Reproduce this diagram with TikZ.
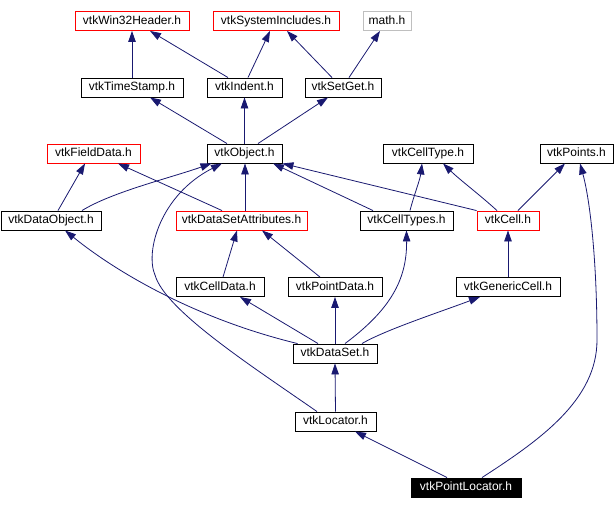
\documentclass[tikz,border=0pt]{standalone}
\usepackage{fontspec}
\setmainfont{Liberation Sans}
\usetikzlibrary{arrows.meta}
\definecolor{edgeblue}{HTML}{191970}
\begin{document}
\begin{tikzpicture}[x=1pt,y=-1pt,
  box/.style={draw=black,line width=0.9pt,rectangle,inner sep=0pt,minimum height=19pt,
    font=\fontsize{12}{14}\selectfont,text height=8.8pt,text depth=2.4pt},
  redbox/.style={box,draw=red},
  greybox/.style={box,draw=black!25},
  darkbox/.style={box,fill=black,text=white},
  inc/.style={draw=edgeblue,line width=0.8pt,-{Triangle[length=11pt,width=7.5pt]}}]
\useasboundingbox (0,0) rectangle (614,509);
% row 1
\node[redbox,minimum width=114pt] (win32) at (132,21) {vtkWin32Header.h};
\node[redbox,minimum width=126pt] (sysinc) at (276,21) {vtkSystemIncludes.h};
\node[greybox,minimum width=48pt] (math) at (387,21) {math.h};
% row 2
\node[box,minimum width=102pt] (timestamp) at (132,87.5) {vtkTimeStamp.h};
\node[box,minimum width=75pt] (indent) at (244.5,87.5) {vtkIndent.h};
\node[box,minimum width=76pt] (setget) at (343,87.5) {vtkSetGet.h};
% row 3
\node[redbox,minimum width=93pt] (fielddata) at (93.5,153.5) {vtkFieldData.h};
\node[box,minimum width=75pt] (object) at (244.5,153.5) {vtkObject.h};
\node[box,minimum width=90pt] (celltype) at (428,153.5) {vtkCellType.h};
\node[box,minimum width=73pt] (points) at (576.5,153.5) {vtkPoints.h};
% row 4
\node[box,minimum width=100pt] (dataobject) at (51,220.5) {vtkDataObject.h};
\node[redbox,minimum width=131pt] (dsattr) at (241.5,220.5) {vtkDataSetAttributes.h};
\node[box,minimum width=93pt] (celltypes) at (406.5,220.5) {vtkCellTypes.h};
\node[redbox,minimum width=62pt] (cell) at (508,220.5) {vtkCell.h};
% row 5
\node[box,minimum width=88pt] (celldata) at (220,287) {vtkCellData.h};
\node[box,minimum width=94pt] (pointdata) at (335,287) {vtkPointData.h};
\node[box,minimum width=104pt] (genericcell) at (508,287) {vtkGenericCell.h};
% row 6
\node[box,minimum width=84pt] (dataset) at (335,353.5) {vtkDataSet.h};
% row 7
\node[box,minimum width=81pt] (locator) at (335.5,421.5) {vtkLocator.h};
% row 8
\node[darkbox,minimum width=110pt] (pointlocator) at (466,487.5) {vtkPointLocator.h};

% edges
\draw[inc] (timestamp.north) -- (win32.south);
\draw[inc] ([xshift=-16.5pt]indent.north) -- ([xshift=18pt]win32.south);
\draw[inc] ([xshift=3.5pt]indent.north) -- ([xshift=-6pt]sysinc.south);
\draw[inc] ([xshift=-11pt]setget.north) -- ([xshift=11pt]sysinc.south);
\draw[inc] ([xshift=6pt]setget.north) -- ([xshift=-7pt]math.south);
\draw[inc] ([xshift=-17.5pt]object.north) -- ([xshift=18pt]timestamp.south);
\draw[inc] (object.north) -- (indent.south);
\draw[inc] ([xshift=13.5pt]object.north) -- ([xshift=-15pt]setget.south);
\draw[inc] ([xshift=7pt]dataobject.north) -- ([xshift=-8.5pt]fielddata.south);
\draw[inc] ([xshift=31pt]dataobject.north) .. controls (112,192) and (170,178) .. ([xshift=-33pt]object.south);
\draw[inc] ([xshift=-19.5pt]dsattr.north) -- ([xshift=24.5pt]fielddata.south);
\draw[inc] ([xshift=3.5pt]dsattr.north) -- ([xshift=0.5pt]object.south);
\draw[inc] ([xshift=-33.5pt]celltypes.north) -- ([xshift=28.5pt]object.south);
\draw[inc] (cell.north west) -- (object.south east);
\draw[inc] ([xshift=3.5pt]celltypes.north) .. controls (414,195) and (420,180) .. ([xshift=-6pt]celltype.south);
\draw[inc] ([xshift=-11pt]cell.north) .. controls (480,195) and (460,180) .. ([xshift=15pt]celltype.south);
\draw[inc] ([xshift=10pt]cell.north) -- ([xshift=-11.5pt]points.south);
\draw[inc] ([xshift=3pt]celldata.north) -- ([xshift=-4.5pt]dsattr.south);
\draw[inc] ([xshift=-15pt]pointdata.north) -- ([xshift=20.5pt]dsattr.south);
\draw[inc] (genericcell.north) -- (cell.south);
\draw[inc] ([xshift=5pt]dataset.north west) .. controls (200,320) and (120,275) .. ([xshift=14pt]dataobject.south);
\draw[inc] ([xshift=-17pt]dataset.north) -- ([xshift=20pt]celldata.south);
\draw[inc] (dataset.north) -- (pointdata.south);
\draw[inc] ([xshift=10pt]dataset.north) .. controls (390,310) and (407,280) .. (celltypes.south);
\draw[inc] ([xshift=27pt]dataset.north) .. controls (385,330) and (440,312) .. ([xshift=-28pt]genericcell.south);
\draw[inc] (locator.north) -- (dataset.south);
\draw[inc] ([xshift=-18.5pt]locator.north) .. controls (250,365) and (165,310) .. (155,275)
   .. controls (145,252) and (160,195) .. ([xshift=-22.5pt]object.south);
\draw[inc] ([xshift=-19pt]pointlocator.north) -- ([xshift=19.5pt]locator.south);
\draw[inc] ([xshift=16pt]pointlocator.north) .. controls (540,440) and (597,400) .. (597,340)
   .. controls (597,260) and (590,200) .. ([xshift=3.5pt]points.south);
\end{tikzpicture}
\end{document}
